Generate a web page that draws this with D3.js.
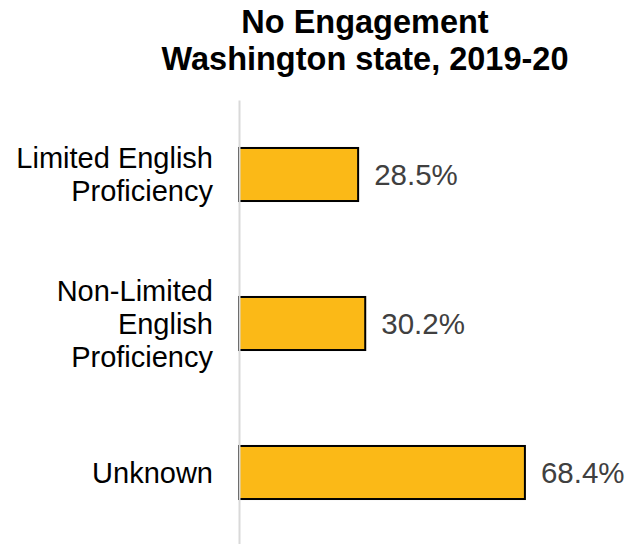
<!DOCTYPE html>
<html>
<head>
<meta charset="utf-8">
<script src="https://cdn.jsdelivr.net/npm/d3@7"></script>
<style>
  html, body { margin: 0; padding: 0; background: #fff; }
  svg { display: block; font-family: Arial, "Liberation Sans", sans-serif; }
</style>
</head>
<body>
<svg id="chart" width="634" height="544"></svg>
<script>
// No-engagement rates by English proficiency status
const titleLines = ["No Engagement", "Washington state, 2019-20"];
const categories = [
  ["Limited English", "Proficiency"],
  ["Non-Limited", "English", "Proficiency"],
  ["Unknown"]
];
const values = [28.5, 30.2, 68.4];
const valueLabels = ["28.5%", "30.2%", "68.4%"];

const svg = d3.select("#chart");

const keys = categories.map(c => c.join(" "));

const x = d3.scaleLinear().domain([0, 100]).range([239, 657]);
const y = d3.scaleBand().domain(keys).range([100, 547])
  .paddingInner(0.644).paddingOuter(0.322);

// Title
svg.append("text")
  .attr("x", 365).attr("y", 33)
  .attr("text-anchor", "middle")
  .attr("font-size", 32.5).attr("font-weight", "bold").attr("fill", "#000")
  .selectAll("tspan").data(titleLines).join("tspan")
  .attr("x", 365).attr("dy", (d, i) => i === 0 ? 0 : 37)
  .text(d => d);

// Bars
svg.append("g").selectAll("rect").data(values).join("rect")
  .attr("x", x(0))
  .attr("y", (d, i) => y(keys[i]))
  .attr("width", d => x(d) - x(0))
  .attr("height", y.bandwidth())
  .attr("fill", "#FBB917")
  .attr("stroke", "#000")
  .attr("stroke-width", 2);

// Vertical category axis
const axis = svg.append("g")
  .attr("transform", `translate(${x(0)},0)`)
  .call(d3.axisLeft(y).tickSize(0).tickFormat(""));
axis.select(".domain").attr("stroke", "#d9d9d9").attr("stroke-width", 2);

// Category labels (multi-line, right-aligned)
const lineH = 33;
svg.append("g").selectAll("text").data(categories).join("text")
  .attr("text-anchor", "end")
  .attr("font-size", 29).attr("fill", "#000")
  .each(function(lines, i) {
    const cy = y(keys[i]) + y.bandwidth() / 2;
    const y0 = cy - (lines.length - 1) * lineH / 2 + 10;
    d3.select(this).selectAll("tspan").data(lines).join("tspan")
      .attr("x", 213)
      .attr("y", (d, j) => y0 + j * lineH)
      .text(d => d);
  });

// Value labels
svg.append("g").selectAll("text").data(values).join("text")
  .attr("x", d => x(d) + 16)
  .attr("y", (d, i) => y(keys[i]) + y.bandwidth() / 2 + 10.5)
  .attr("font-size", 29.5).attr("fill", "#404040")
  .text((d, i) => valueLabels[i]);
</script>
</body>
</html>
